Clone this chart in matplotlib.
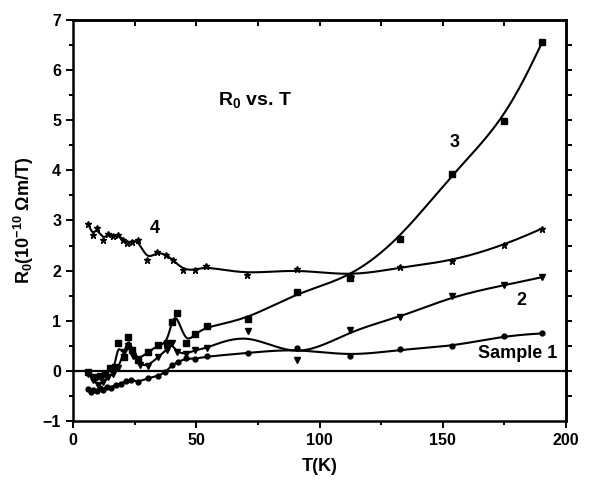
import numpy as np
import matplotlib
matplotlib.use("Agg")
import matplotlib.pyplot as plt
from matplotlib.ticker import MultipleLocator

plt.rcParams['font.family'] = ['Liberation Sans', 'DejaVu Sans']
plt.rcParams['font.weight'] = 'bold'
plt.rcParams['mathtext.fontset'] = 'custom'
plt.rcParams['mathtext.rm'] = 'Liberation Sans:bold'
plt.rcParams['mathtext.bf'] = 'Liberation Sans:bold'
plt.rcParams['mathtext.default'] = 'bf'

# sample 1 (circles)
T1 = [6.2, 7.2, 8.2, 9.6, 11, 12.3, 13.8, 15.5, 17.5, 19.5, 21.5, 23.5, 26.4, 30.5,
      34.5, 37.5, 40, 42.5, 45.7, 49.4, 54.3, 70.9, 91, 112.3, 132.8, 153.8, 174.9, 190.3]
R1 = [-0.36, -0.42, -0.38, -0.40, -0.34, -0.37, -0.31, -0.33, -0.27, -0.25, -0.20, -0.18,
      -0.22, -0.14, -0.10, -0.02, 0.11, 0.18, 0.25, 0.24, 0.29, 0.36, 0.45, 0.29, 0.43,
      0.49, 0.70, 0.75]

# sample 2 (down triangles)
T2 = [6.2, 8.2, 10.3, 12.3, 14.3, 16.3, 18.3, 20.6, 22.4, 24.5, 27, 30.5, 34.5, 38, 40,
      42, 45.7, 49.4, 54.3, 70.9, 91, 112.3, 132.8, 153.8, 174.9, 190.3]
R2 = [-0.05, -0.18, -0.28, -0.22, -0.12, -0.05, 0.05, 0.38, 0.50, 0.30, 0.12, 0.10, 0.28,
      0.42, 0.55, 0.38, 0.33, 0.42, 0.45, 0.79, 0.21, 0.81, 1.07, 1.49, 1.71, 1.87]

# sample 3 (squares)
T3 = [6.2, 8.5, 10.9, 13, 15, 17, 18.3, 20.6, 22.4, 24, 26.4, 30.5, 34.5, 38, 40, 42,
      45.7, 49.4, 54.3, 70.9, 91, 112.3, 132.8, 153.8, 174.9, 190.3]
R3 = [-0.02, -0.12, -0.10, -0.05, 0.05, 0.08, 0.55, 0.28, 0.68, 0.42, 0.22, 0.38, 0.51,
      0.55, 0.98, 1.15, 0.55, 0.73, 0.89, 1.03, 1.57, 1.85, 2.64, 3.93, 4.98, 6.55]

# sample 4 (stars)
T4 = [6.2, 8.0, 9.6, 12.3, 14.3, 16.3, 18.3, 20.4, 22.0, 23.8, 26.4, 30.1, 34.1, 37.9,
      40.6, 44.7, 49.4, 54.1, 70.4, 90.7, 112.6, 132.8, 153.8, 174.9, 190.3]
R4 = [2.93, 2.71, 2.85, 2.62, 2.74, 2.69, 2.71, 2.62, 2.56, 2.58, 2.61, 2.21, 2.38, 2.31,
      2.21, 2.02, 2.01, 2.09, 1.92, 2.04, 1.88, 2.07, 2.19, 2.51, 2.84]


def bspline(x, y, n=30):
    # uniform cubic B-spline with clamped ends (approximating, like Origin's B-spline line)
    px = np.r_[[x[0]] * 2, x, [x[-1]] * 2]
    py = np.r_[[y[0]] * 2, y, [y[-1]] * 2]
    t = np.linspace(0, 1, n)
    b0 = (1 - t) ** 3 / 6
    b1 = (3 * t**3 - 6 * t**2 + 4) / 6
    b2 = (-3 * t**3 + 3 * t**2 + 3 * t + 1) / 6
    b3 = t**3 / 6
    xs, ys = [], []
    for i in range(len(px) - 3):
        xs.append(b0 * px[i] + b1 * px[i + 1] + b2 * px[i + 2] + b3 * px[i + 3])
        ys.append(b0 * py[i] + b1 * py[i + 1] + b2 * py[i + 2] + b3 * py[i + 3])
    return np.concatenate(xs), np.concatenate(ys)


fig = plt.figure(figsize=(5.89, 4.83), dpi=100)
ax = fig.add_axes([0.124, 0.128, 0.837, 0.831])

series = [(T1, R1, 'o', 3.5), (T2, R2, 'v', 4), (T3, R3, 's', 3.8), (T4, R4, '*', 5)]
for T, R, m, ms in series:
    sx, sy = bspline(np.array(T, float), np.array(R, float))
    ax.plot(sx, sy, color='black', lw=1.5, zorder=3)
    ax.plot(T, R, m, color='black', ms=ms, zorder=4, lw=0)

ax.axhline(0, color='black', lw=1.6, zorder=2)

ax.set_xlim(0, 200)
ax.set_ylim(-1, 7)
ax.xaxis.set_major_locator(MultipleLocator(50))
ax.xaxis.set_minor_locator(MultipleLocator(25))
ax.yaxis.set_major_locator(MultipleLocator(1))
ax.yaxis.set_minor_locator(MultipleLocator(0.5))
ax.tick_params(which='both', direction='out', width=1.4, labelsize=11.5, top=False, right=False)
ax.tick_params(which='major', length=5)
ax.tick_params(which='minor', length=3)
for sp in ax.spines.values():
    sp.set_linewidth(1.8)

top = ax.secondary_xaxis('top')
top.set_xticks(np.arange(25, 200, 25))
top.tick_params(direction='in', length=4, width=1.4, labeltop=False)
top.spines['top'].set_linewidth(1.8)
right = ax.secondary_yaxis('right')
right.set_yticks(np.arange(-0.5, 7, 0.5))
right.tick_params(direction='out', length=4, width=1.4, labelright=False)
right.spines['right'].set_linewidth(1.8)

ax.set_xlabel('T(K)', fontsize=13, fontweight='bold', labelpad=7)
ax.set_ylabel(r'R$_0$(10$^{-10}$ Ωm/T)', fontsize=13, fontweight='bold', labelpad=5)

ax.text(58.7, 5.41, r'R$_0$ vs. T', fontsize=14, fontweight='bold', va='center', ha='left')
ax.text(154.7, 4.55, '3', fontsize=13, fontweight='bold', ha='center', va='center')
ax.text(33.2, 2.85, '4', fontsize=13, fontweight='bold', ha='center', va='center')
ax.text(182, 1.41, '2', fontsize=13, fontweight='bold', ha='center', va='center')
ax.text(196.4, 0.35, 'Sample 1', fontsize=13, fontweight='bold', ha='right', va='center')

fig.savefig('out.png', dpi=100)
